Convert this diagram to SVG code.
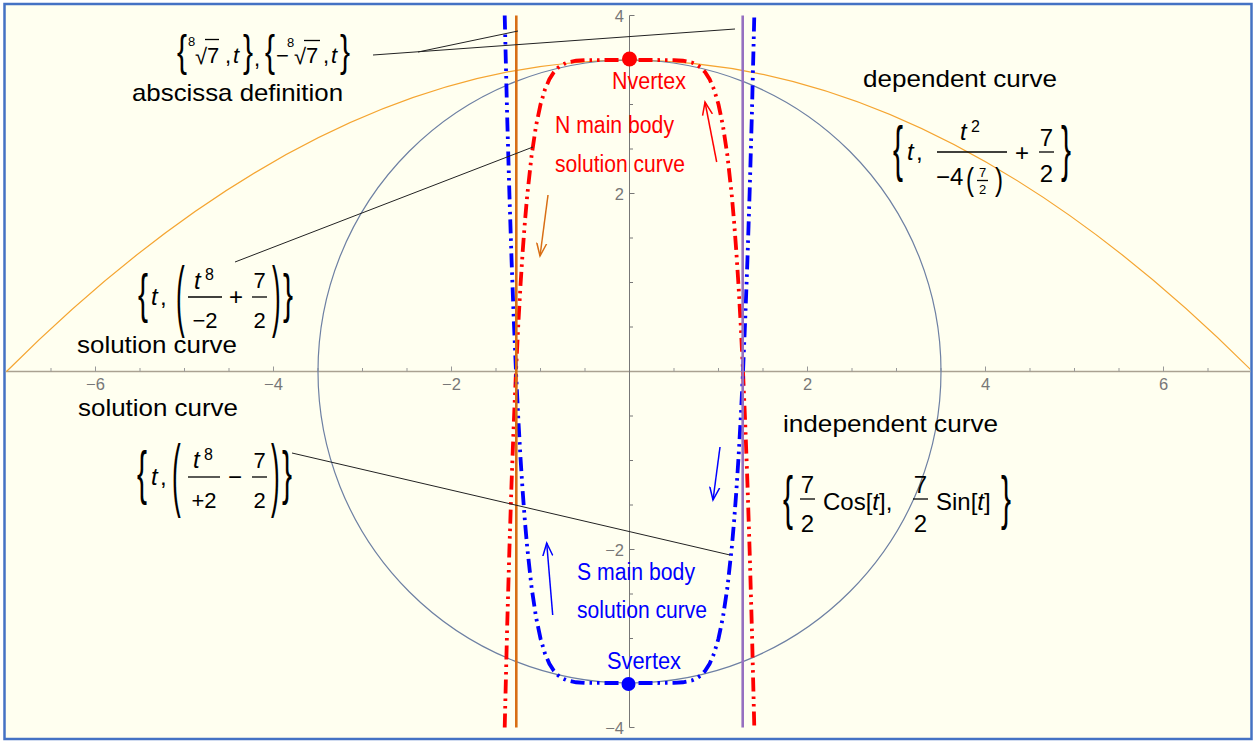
<svg xmlns="http://www.w3.org/2000/svg" width="1256" height="741" viewBox="0 0 1256 741">
<style>
text { font-family: "Liberation Sans", Arial, sans-serif; fill: #000; }
.lbl { font-size: 24px; }
.m { font-size: 24px; }
.mf { font-size: 22px; }
.sup { font-size: 16px; }
.sm { font-size: 13px; }
.it { font-style: italic; }
.mid { text-anchor: middle; }
.br { font-size: 30px; }
.tk { font-size: 16.5px; fill: #777; }
.red { fill: #ff0000; font-size: 23px; }
.blue { fill: #0000ff; font-size: 23px; }
.bar { stroke: #000; stroke-width: 1.3; }
.lead { stroke: #222; stroke-width: 1; fill: none; }
.sol { fill: none; stroke-width: 3.8; stroke-dasharray: 14 5 2.5 5 2.5 5; }
</style>
<defs>
<clipPath id="plot"><rect x="6" y="5" width="1244" height="733"/></clipPath>
<marker id="ah-red" viewBox="-13 -7 15 14" refX="0" refY="0" markerWidth="15" markerHeight="14" markerUnits="userSpaceOnUse" orient="auto"><path d="M-13,-5 L0,0 L-13,5" fill="none" stroke="#ff0000" stroke-width="1.5"/></marker>
<marker id="ah-blue" viewBox="-13 -7 15 14" refX="0" refY="0" markerWidth="15" markerHeight="14" markerUnits="userSpaceOnUse" orient="auto"><path d="M-13,-5 L0,0 L-13,5" fill="none" stroke="#0000ff" stroke-width="1.5"/></marker>
<marker id="ah-orange" viewBox="-13 -7 15 14" refX="0" refY="0" markerWidth="15" markerHeight="14" markerUnits="userSpaceOnUse" orient="auto"><path d="M-13,-5 L0,0 L-13,5" fill="none" stroke="#d86e14" stroke-width="1.5"/></marker>
</defs>
<rect x="0" y="0" width="1256" height="741" fill="#ffffff"/>
<g id="frame">
<rect x="4.5" y="4" width="1247" height="735" fill="#fffff0" stroke="#4472c4" stroke-width="2.5"/>
</g>
<g id="axes">
<line x1="5.5" y1="371.5" x2="1250.5" y2="371.5" stroke="#aaa292" stroke-width="1.6"/>
<line x1="629.5" y1="15.5" x2="629.5" y2="727.5" stroke="#777" stroke-width="1"/>
<path stroke="#999" stroke-width="1" fill="none" d="M51,371.5v-3.5M95.5,371.5v-5M140,371.5v-3.5M184.5,371.5v-3.5M229,371.5v-3.5M273.5,371.5v-5M318,371.5v-3.5M362.5,371.5v-3.5M407,371.5v-3.5M451.5,371.5v-5M496,371.5v-3.5M540.5,371.5v-3.5M585,371.5v-3.5M674,371.5v-3.5M718.5,371.5v-3.5M763,371.5v-3.5M807.5,371.5v-5M852,371.5v-3.5M896.5,371.5v-3.5M941,371.5v-3.5M985.5,371.5v-5M1030,371.5v-3.5M1074.5,371.5v-3.5M1119,371.5v-3.5M1163.5,371.5v-5M1208,371.5v-3.5"/>
<path stroke="#777" stroke-width="1" fill="none" d="M629.5,15.5h5M629.5,60h3.5M629.5,104.5h3.5M629.5,149h3.5M629.5,193.5h5M629.5,238h3.5M629.5,282.5h3.5M629.5,327h3.5M629.5,416h3.5M629.5,460.5h3.5M629.5,505h3.5M629.5,549.5h5M629.5,594h3.5M629.5,638.5h3.5M629.5,683h3.5M629.5,727.5h5"/>
<text class="tk mid" x="95.5" y="390">−6</text>
<text class="tk mid" x="273.5" y="390">−4</text>
<text class="tk mid" x="451.5" y="390">−2</text>
<text class="tk mid" x="807.5" y="390">2</text>
<text class="tk mid" x="985.5" y="390">4</text>
<text class="tk mid" x="1163.5" y="390">6</text>
<text class="tk" text-anchor="end" x="624" y="21.5">4</text>
<text class="tk" text-anchor="end" x="624" y="199.5">2</text>
<text class="tk" text-anchor="end" x="624" y="555.5">−2</text>
<text class="tk" text-anchor="end" x="624" y="733.5">−4</text>
</g>
<g id="plot-curves" clip-path="url(#plot)">
<path id="dependent-curve" d="M6.5,371.5 Q629.5,-251.5 1252.5,371.5" fill="none" stroke="#f5a531" stroke-width="1.2"/>
<circle id="independent-curve" cx="629.5" cy="371.5" r="311.5" fill="none" stroke="#6e80a3" stroke-width="1.2"/>
<path id="n-solution" class="sol" stroke="#ff0000" d="M504.7,727.5 L507.12,628.57 L509.35,550.94 L511.57,482.75 L513.8,423 L516.02,370.77 L518.25,325.24 L520.47,285.66 L522.7,251.34 L524.92,221.68 L527.15,196.13 L531.6,155.39 L536.05,125.75 L540.5,104.5 L544.95,89.52 L549.4,79.16 L553.85,72.13 L558.3,67.47 L562.75,64.46 L567.2,62.57 L576.1,60.75 L585,60.17 L593.9,60.03 L629.5,60 L665.1,60.03 L674,60.17 L682.9,60.75 L691.8,62.57 L696.25,64.46 L700.7,67.47 L705.15,72.13 L709.6,79.16 L714.05,89.52 L718.5,104.5 L722.95,125.75 L727.4,155.39 L731.85,196.13 L734.08,221.68 L736.3,251.34 L738.53,285.66 L740.75,325.24 L742.98,370.77 L745.2,423 L747.43,482.75 L749.65,550.94 L751.88,628.57 L754.3,727.5"/>
<path id="s-solution" class="sol" stroke="#0000ff" d="M504.7,15.5 L507.12,114.43 L509.35,192.06 L511.57,260.25 L513.8,320 L516.02,372.23 L518.25,417.76 L520.47,457.34 L522.7,491.66 L524.92,521.32 L527.15,546.87 L531.6,587.61 L536.05,617.25 L540.5,638.5 L544.95,653.48 L549.4,663.84 L553.85,670.87 L558.3,675.53 L562.75,678.54 L567.2,680.43 L576.1,682.25 L585,682.83 L593.9,682.97 L629.5,683 L665.1,682.97 L674,682.83 L682.9,682.25 L691.8,680.43 L696.25,678.54 L700.7,675.53 L705.15,670.87 L709.6,663.84 L714.05,653.48 L718.5,638.5 L722.95,617.25 L727.4,587.61 L731.85,546.87 L734.08,521.32 L736.3,491.66 L738.53,457.34 L740.75,417.76 L742.98,372.23 L745.2,320 L747.43,260.25 L749.65,192.06 L751.88,114.43 L754.3,15.5"/>
<line id="abscissa-left" x1="516.3" y1="15.5" x2="516.3" y2="727.5" stroke="#d86e14" stroke-width="2.6"/>
<line id="abscissa-right" x1="742.7" y1="15.5" x2="742.7" y2="727.5" stroke="#9670c0" stroke-width="2.6"/>
<circle id="n-vertex-dot" cx="629.5" cy="59" r="7.5" fill="#ff0000"/>
<circle id="s-vertex-dot" cx="628.5" cy="684" r="7" fill="#0000ff"/>
</g>
<g id="connectors">
<line class="lead" x1="373" y1="55" x2="735" y2="29"/>
<line class="lead" x1="418" y1="52" x2="518" y2="31"/>
<line class="lead" x1="235" y1="262" x2="533" y2="147"/>
<line class="lead" x1="292" y1="453" x2="730" y2="555"/>
<line stroke="#ff0000" stroke-width="1.5" x1="716.7" y1="162" x2="705" y2="102" marker-end="url(#ah-red)"/>
<line stroke="#d86e14" stroke-width="1.5" x1="548" y1="195" x2="540" y2="256" marker-end="url(#ah-orange)"/>
<line stroke="#0000ff" stroke-width="1.5" x1="720" y1="447" x2="713" y2="500" marker-end="url(#ah-blue)"/>
<line stroke="#0000ff" stroke-width="1.5" x1="552.7" y1="615" x2="546.7" y2="543" marker-end="url(#ah-blue)"/>
</g>
<g id="abscissa-definition">
<text class="br" transform="translate(177,65.8) scale(1,1.5)">{</text>
<text class="sm" x="188" y="46">8</text>
<text class="mf" x="195" y="64">√</text>
<line class="bar" x1="205" y1="39.5" x2="219" y2="39.5"/>
<text class="mf" x="207" y="63">7</text>
<text class="mf" x="225" y="63">,</text>
<text class="mf it" x="233" y="63">t</text>
<text class="br" transform="translate(243,65.8) scale(1,1.5)">}</text>
<text class="mf" x="254" y="66">,</text>
<text class="br" transform="translate(265,65.8) scale(1,1.5)">{</text>
<text class="mf" x="276" y="63">−</text>
<text class="sm" x="287" y="47">8</text>
<text class="mf" x="294" y="64">√</text>
<line class="bar" x1="304" y1="40.5" x2="320" y2="40.5"/>
<text class="mf" x="306" y="63">7</text>
<text class="mf" x="323" y="63">,</text>
<text class="mf it" x="331" y="63">t</text>
<text class="br" transform="translate(340,65.8) scale(1,1.5)">}</text>
<text class="lbl" x="132" y="101" textLength="211" lengthAdjust="spacingAndGlyphs">abscissa definition</text>
</g>
<g id="dependent-label">
<text class="lbl" x="863" y="87" textLength="194" lengthAdjust="spacingAndGlyphs">dependent curve</text>
<text class="br" transform="translate(893,169.3) scale(1,2.03)">{</text>
<text class="m it" x="907" y="160">t</text>
<text class="m" x="916" y="160">,</text>
<line class="bar" x1="937" y1="152" x2="1007" y2="152"/>
<text class="m it" x="960" y="140" font-size="25">t</text>
<text class="sup" x="971" y="132">2</text>
<text class="m" x="936" y="185">−4</text>
<text class="m" transform="translate(966,190.3) scale(1,1.33)">(</text>
<text class="sm mid" x="982.5" y="177">7</text>
<line class="bar" x1="977" y1="180.5" x2="988" y2="180.5" stroke-width="1"/>
<text class="sm mid" x="982.5" y="194">2</text>
<text class="m" transform="translate(995,190.3) scale(1,1.33)">)</text>
<text class="m mid" x="1022" y="160.5">+</text>
<text class="m mid" x="1046.5" y="146">7</text>
<line class="bar" x1="1039" y1="152" x2="1054" y2="152"/>
<text class="m mid" x="1046.5" y="182">2</text>
<text class="br" transform="translate(1061,169.3) scale(1,2.03)">}</text>
</g>
<g id="solution-curve-n">
<text class="br" transform="translate(138,311.5) scale(1,1.81)">{</text>
<text class="m it" x="151" y="305">t</text>
<text class="m" x="160" y="305">,</text>
<text class="br" transform="translate(176,321.6) scale(0.87,2.6)">(</text>
<line class="bar" x1="188" y1="297" x2="222" y2="297"/>
<text class="m it" x="194" y="289">t</text>
<text class="sup" x="205" y="280">8</text>
<text class="mf mid" x="205" y="328">−2</text>
<text class="m mid" x="236" y="305">+</text>
<text class="mf mid" x="259.5" y="288">7</text>
<line class="bar" x1="252" y1="297" x2="267" y2="297"/>
<text class="mf mid" x="259.5" y="328">2</text>
<text class="br" transform="translate(272,321.6) scale(0.87,2.6)">)</text>
<text class="br" transform="translate(283,311.5) scale(1,1.81)">}</text>
<text class="lbl" x="77" y="353" textLength="160" lengthAdjust="spacingAndGlyphs">solution curve</text>
</g>
<g id="solution-curve-s">
<text class="lbl" x="78" y="416" textLength="160" lengthAdjust="spacingAndGlyphs">solution curve</text>
<text class="br" transform="translate(137,492.6) scale(1,1.95)">{</text>
<text class="m it" x="151" y="485">t</text>
<text class="m" x="160" y="485">,</text>
<text class="br" transform="translate(172,501.2) scale(0.87,2.67)">(</text>
<line class="bar" x1="188" y1="477" x2="220" y2="477"/>
<text class="m it" x="193" y="468">t</text>
<text class="sup" x="204" y="460">8</text>
<text class="mf mid" x="204" y="508">+2</text>
<text class="m mid" x="235" y="485">−</text>
<text class="mf mid" x="259.5" y="468">7</text>
<line class="bar" x1="252" y1="477" x2="267" y2="477"/>
<text class="mf mid" x="259.5" y="508">2</text>
<text class="br" transform="translate(271,501.2) scale(0.87,2.67)">)</text>
<text class="br" transform="translate(282,492.6) scale(1,1.95)">}</text>
</g>
<g id="independent-label">
<text class="lbl" x="783" y="432" textLength="215" lengthAdjust="spacingAndGlyphs">independent curve</text>
<text class="br" transform="translate(783,517.6) scale(1,1.95)">{</text>
<text class="m mid" x="807.5" y="493">7</text>
<line class="bar" x1="800" y1="499" x2="815" y2="499"/>
<text class="m mid" x="807.5" y="532">2</text>
<text class="m" x="823" y="510" font-size="25">Cos[<tspan class="it">t</tspan>],</text>
<text class="m mid" x="920.5" y="493">7</text>
<line class="bar" x1="913" y1="499" x2="928" y2="499"/>
<text class="m mid" x="920.5" y="532">2</text>
<text class="m" x="936" y="510" font-size="25">Sin[<tspan class="it">t</tspan>]</text>
<text class="br" transform="translate(1001,517.6) scale(1,1.95)">}</text>
</g>
<g id="n-vertex-label">
<text class="red" x="612" y="89" textLength="74" lengthAdjust="spacingAndGlyphs">Nvertex</text>
</g>
<g id="n-main-body-label">
<text class="red" x="555" y="133" textLength="119" lengthAdjust="spacingAndGlyphs">N main body</text>
<text class="red" x="555" y="172" textLength="130" lengthAdjust="spacingAndGlyphs">solution curve</text>
</g>
<g id="s-main-body-label">
<text class="blue" x="577" y="580" textLength="118" lengthAdjust="spacingAndGlyphs">S main body</text>
<text class="blue" x="577" y="618" textLength="130" lengthAdjust="spacingAndGlyphs">solution curve</text>
</g>
<g id="s-vertex-label">
<text class="blue" x="607" y="669" textLength="74" lengthAdjust="spacingAndGlyphs">Svertex</text>
</g>
</svg>
